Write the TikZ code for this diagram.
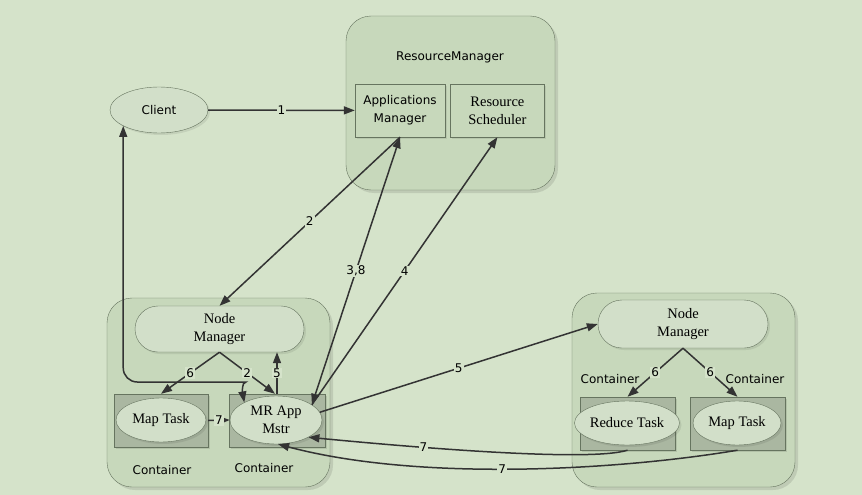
\documentclass[tikz,border=0pt]{standalone}
\usepackage{fontspec}
\setmainfont{Liberation Serif}
\setsansfont{DejaVu Sans}
\usetikzlibrary{arrows.meta,shapes,positioning,shadows}
\definecolor{bg}{HTML}{D5E3CA}
\definecolor{boxfill}{HTML}{C7D8BB}
\definecolor{ctfill}{HTML}{AAB7A1}
\definecolor{ellfill}{HTML}{D2DFC9}
\definecolor{edge}{HTML}{66745F}
\definecolor{wire}{HTML}{333333}
\tikzset{
  basic/.style   = {draw=edge, thin, align=center, inner sep=0pt},
  outer/.style   = {basic, fill=boxfill, rounded corners=25pt,
                    drop shadow={shadow xshift=3pt, shadow yshift=-3pt, fill=black, opacity=0.1}},
  nm/.style      = {basic, fill=ellfill, rounded rectangle, font=\fontsize{14.5}{18}\selectfont,
                    drop shadow={shadow xshift=2pt, shadow yshift=-2pt, fill=black, opacity=0.08}},
  rmbox/.style   = {basic, fill=boxfill, rectangle, minimum width=90pt, minimum height=53pt,
                    drop shadow={shadow xshift=2pt, shadow yshift=-2pt, fill=black, opacity=0.08}},
  ct/.style      = {basic, fill=ctfill, rectangle, minimum width=95pt, minimum height=53pt,
                    drop shadow={shadow xshift=2pt, shadow yshift=-2pt, fill=black, opacity=0.1}},
  task/.style    = {basic, fill=ellfill, ellipse, minimum width=90pt, minimum height=44pt,
                    font=\fontsize{14.5}{18}\selectfont,
                    drop shadow={shadow xshift=2pt, shadow yshift=-2pt, fill=black, opacity=0.08}},
  tag/.style     = {font=\sffamily\fontsize{12}{14}\selectfont},
  lbl/.style     = {font=\sffamily\fontsize{12}{14}\selectfont, fill=bg, inner sep=1pt},
  arr/.style     = {->, draw=wire, line width=1.5pt}
}
\begin{document}
\begin{tikzpicture}[x=1pt, y=-1pt, >={Triangle[length=11pt,width=8pt]}]
  \fill[bg] (0,0) rectangle (862,495);
  \useasboundingbox (0,0) rectangle (862,495);

  % the three big boxes
  \node[outer, minimum width=209pt, minimum height=174pt] (rm) at (450.5,103) {};
  \node[outer, minimum width=223pt, minimum height=189pt] (hl) at (218.5,392.5) {};
  \node[outer, minimum width=223pt, minimum height=194pt] (hr) at (683.5,390) {};

  % resource manager
  \node[tag] (rmtxt) at (450,57) {ResourceManager};
  \node[rmbox, font=\sffamily\fontsize{12}{18}\selectfont] (am) at (400,110.5) {Applications\\Manager};
  \node[rmbox, right=5pt of am, minimum width=94pt, font=\fontsize{14.5}{18}\selectfont] (rs) {Resource\\Scheduler};

  % client
  \node[task, font=\sffamily\fontsize{12}{14}\selectfont, minimum width=98pt, minimum height=46pt]
       (client) at (159,110) {Client};

  % left node
  \node[nm, minimum width=169pt, minimum height=46pt] (nml) at (219.5,329) {Node\\Manager};
  \node[ct, minimum width=94pt] (ctml) at (161,420.5) {};
  \node[ct, minimum width=96pt] (ctmr) at (277,420.5) {};
  \node[task] (mapl) at (161,420) {Map Task};
  \node[task, minimum width=92pt, minimum height=48pt] (mr) at (276,420) {MR App\\Mstr};
  \node[tag] (cl1) at (162,470) {Container};
  \node[tag] (cl2) at (264,468) {Container};

  % right node
  \node[nm, minimum width=170pt, minimum height=48pt] (nmr) at (683,324) {Node\\Manager};
  \node[ct] (ctr) at (627.5,423.5) {};
  \node[ct] (ctm) at (737.5,423.5) {};
  \node[task] (red) at (627,423) {Reduce Task};
  \node[task, minimum width=88pt] (mapr) at (737,423) {Map Task};
  \node[tag] (cr1) at (610,379) {Container};
  \node[tag] (cr2) at (755,379) {Container};

  % arrows
  \draw[arr] (client) -- node[lbl] {1} (am);
  \draw[arr] (am.south) -- node[lbl] {2} (nml.north);
  \draw[arr, <->] (mr.23) -- node[lbl] {3,8} (am.south);
  \draw[arr] (mr.23) -- node[lbl] {4} (rs.south);
  \draw[arr] (mr.10) -- node[lbl] {5} (nmr.west);
  \draw[arr] (nml.south) -- node[lbl] {6} (ctml.north);
  \draw[arr] (nml.south) -- node[lbl] {2} ([xshift=-2pt]ctmr.north);
  \draw[arr] (ctmr.north) -- node[lbl] {5} (ctmr.north |- nml.south);
  \draw[arr] (ctml.east) -- node[lbl] {7} (mr.west);
  \draw[arr] (nmr.south) -- node[lbl] {6} (ctr.north);
  \draw[arr] (nmr.south) -- node[lbl] {6} (ctm.north);

  \coordinate (bend) at (232,382);
  \draw[arr, <->, rounded corners=14pt] (client.204) |- (bend) to[out=0, in=100] (mr.151);

  \draw[arr] (ctr.south) .. controls (590,462) and (420,448) .. node[lbl, pos=0.69] {7} (mr.-28);
  \draw[arr] (ctm.south) .. controls (620,470) and (420,482) .. node[lbl, pos=0.53] {7} (mr.-85);
\end{tikzpicture}
\end{document}
